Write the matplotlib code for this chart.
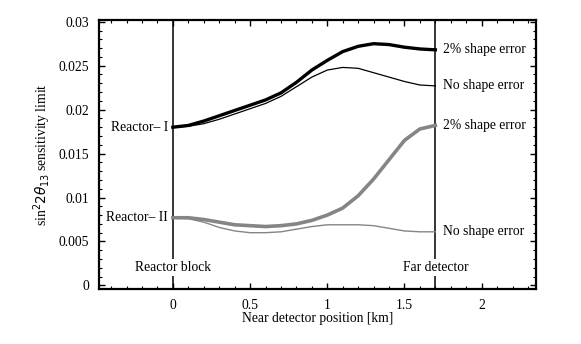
import matplotlib.pyplot as plt
from matplotlib.ticker import MultipleLocator

plt.rcParams['font.family'] = ['Liberation Serif', 'DejaVu Serif']

# near detector position (km)
pos = [0.0, 0.1, 0.2, 0.3, 0.4, 0.5, 0.6, 0.7, 0.8, 0.9,
       1.0, 1.1, 1.2, 1.3, 1.4, 1.5, 1.6, 1.7]

# Reactor-I
r1_shape = [0.0180, 0.0182, 0.0187, 0.0193, 0.0199, 0.0205, 0.0211, 0.0219, 0.0231, 0.0245,
            0.0256, 0.0266, 0.0272, 0.0275, 0.0274, 0.0271, 0.0269, 0.0268]
r1_noshape = [0.0180, 0.0181, 0.0184, 0.0189, 0.0195, 0.0201, 0.0207, 0.0215, 0.0226, 0.0237,
              0.0245, 0.0248, 0.0247, 0.0242, 0.0237, 0.0232, 0.0228, 0.0227]
# Reactor-II
r2_shape = [0.0077, 0.0077, 0.0075, 0.0072, 0.0069, 0.0068, 0.0067, 0.0068, 0.0070, 0.0074,
            0.0080, 0.0088, 0.0102, 0.0121, 0.0143, 0.0165, 0.0178, 0.0182]
r2_noshape = [0.0077, 0.0076, 0.0072, 0.0066, 0.0062, 0.0060, 0.0060, 0.0061, 0.0064, 0.0067,
              0.0069, 0.0069, 0.0069, 0.0068, 0.0065, 0.0062, 0.0061, 0.0061]

far_pos = 1.7

fig = plt.figure(figsize=(5.81, 3.44), dpi=100)
ax = fig.add_axes([0.170, 0.160, 0.752, 0.782])

ax.axvline(0, color='black', lw=1.1, zorder=1)
ax.axvline(far_pos, color='black', lw=1.1, zorder=1)

ax.plot(pos, r1_shape, color='black', lw=2.4)
ax.plot(pos, r1_noshape, color='black', lw=0.9)
ax.plot(pos, r2_shape, color='#858585', lw=2.6)
ax.plot(pos, r2_noshape, color='#858585', lw=1.0)

fs = 9.8
ax.text(-0.03, r1_shape[0], 'Reactor\u2013 I', ha='right', va='center', fontsize=fs)
ax.text(-0.03, r2_shape[0], 'Reactor\u2013 II', ha='right', va='center', fontsize=fs)
bbox = dict(facecolor='white', edgecolor='none', pad=1.5)
ax.text(0, 0.002, 'Reactor block', ha='center', va='center', fontsize=fs, bbox=bbox, zorder=3)
ax.text(far_pos, 0.002, 'Far detector', ha='center', va='center', fontsize=fs, bbox=bbox, zorder=3)

right_labels = ['2% shape error', 'No shape error', '2% shape error', 'No shape error']
right_vals = [r1_shape[-1], r1_noshape[-1], r2_shape[-1], r2_noshape[-1]]
for lab, v in zip(right_labels, right_vals):
    ax.text(far_pos + 0.05, v, lab, ha='left', va='center', fontsize=fs)

ax.set_xlim(-0.48, 2.35)
ax.set_ylim(-0.0004, 0.0302)
ax.xaxis.set_minor_locator(MultipleLocator(0.1))
ax.yaxis.set_minor_locator(MultipleLocator(0.001))
ax.set_xticks([0, 0.5, 1, 1.5, 2])
ax.set_xticklabels(['0', '0.5', '1', '1.5', '2'])
ax.set_yticks([0, 0.005, 0.01, 0.015, 0.02, 0.025, 0.03])
ax.set_yticklabels(['0', '0.005', '0.01', '0.015', '0.02', '0.025', '0.03'])
ax.tick_params(which='both', direction='in', top=True, right=True, labelsize=fs)
ax.tick_params(which='major', length=4, width=1, pad=7)
ax.tick_params(which='minor', length=2, width=0.8)
for s in ax.spines.values():
    s.set_linewidth(1.6)

ax.set_xlabel('Near detector position [km]', fontsize=fs, labelpad=0)
ax.set_ylabel(r'sin$^2 2\theta_{13}$ sensitivity limit', fontsize=fs, labelpad=4)

fig.savefig('out.png', dpi=100)
